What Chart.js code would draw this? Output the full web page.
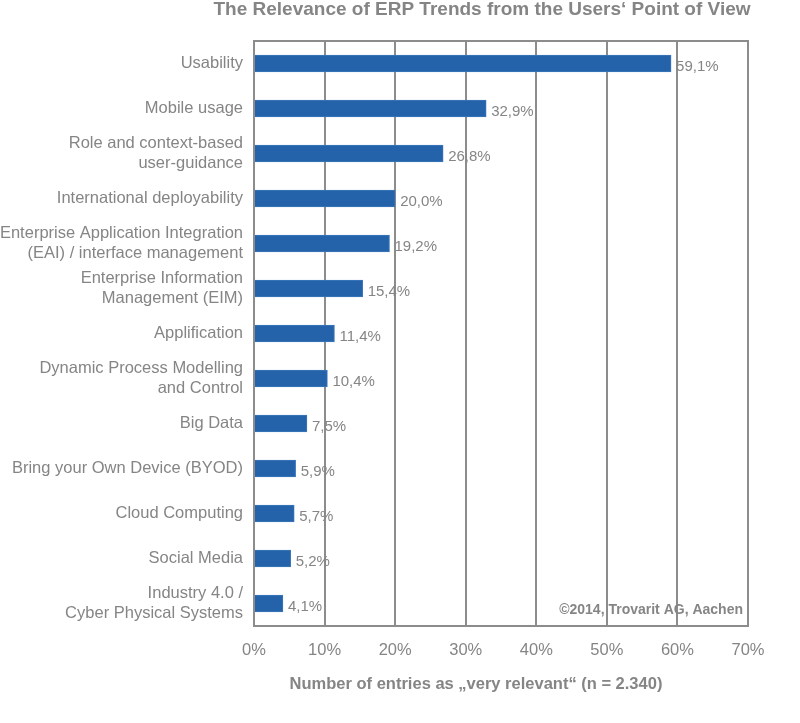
<!DOCTYPE html>
<html>
<head>
<meta charset="utf-8">
<script src="https://cdn.jsdelivr.net/npm/chart.js@4"></script>
<style>
  body { margin: 0; background: #fff; }
  #wrap { width: 800px; height: 723px; }
</style>
</head>
<body>
<div id="wrap"><canvas id="myChart" width="800" height="723"></canvas></div>
<script>
// data
const trendLabels = [
  "Usability",
  "Mobile usage",
  ["Role and context-based", "user-guidance"],
  "International deployability",
  ["Enterprise Application Integration", "(EAI) / interface management"],
  ["Enterprise Information", "Management (EIM)"],
  "Applification",
  ["Dynamic Process Modelling", "and Control"],
  "Big Data",
  "Bring your Own Device (BYOD)",
  "Cloud Computing",
  "Social Media",
  ["Industry 4.0 /", "Cyber Physical Systems"]
];
const trendValues = [59.1, 32.9, 26.8, 20.0, 19.2, 15.4, 11.4, 10.4, 7.5, 5.9, 5.7, 5.2, 4.1];
const axisMax = 70;

const chartTitle = "The Relevance of ERP Trends from the Users\u2018 Point of View";
const axisTitle = "Number of entries as \u201Every relevant\u201C (n = 2.340)";
const copyright = "\u00A92014, Trovarit AG, Aachen";

const gray = "#858585";
const lineGray = "#8c8c8c";
const font = "'Liberation Sans', Arial, sans-serif";

// title, box, value labels, footer text
const extras = {
  id: "extras",
  afterDraw(chart) {
    const c = chart.ctx;
    const a = chart.chartArea;
    c.save();
    // frame
    c.strokeStyle = lineGray;
    c.lineWidth = 2;
    c.strokeRect(a.left, a.top, a.right - a.left, a.bottom - a.top);

    // value labels
    c.fillStyle = gray;
    c.font = "15px " + font;
    c.textAlign = "left";
    c.textBaseline = "middle";
    chart.getDatasetMeta(0).data.forEach((bar, i) => {
      const txt = trendValues[i].toFixed(1).replace(".", ",") + "%";
      c.fillText(txt, bar.x + 5, bar.y + 3);
    });

    // copyright
    c.font = "bold 14px " + font;
    c.textAlign = "right";
    c.fillText(copyright, a.right - 5, a.bottom - 16);

    // chart title
    c.font = "bold 19px " + font;
    c.textAlign = "center";
    c.fillText(chartTitle, 482, 10);

    // axis title
    c.font = "bold 16.5px " + font;
    c.fillText(axisTitle, 476, 684);
    c.restore();
  }
};

new Chart(document.getElementById("myChart"), {
  type: "bar",
  data: {
    labels: trendLabels,
    datasets: [
      {
        data: trendValues,
        backgroundColor: "#2462a9",
        borderColor: "#3d78bb",
        borderWidth: 1,
        barThickness: 17,
      },
    ],
  },
  options: {
    indexAxis: "y",
    responsive: false,
    animation: false,
    layout: { padding: { top: 41, right: 52, bottom: 57, left: 0 } },
    plugins: {
      legend: { display: false },
      tooltip: { enabled: false },
    },
    scales: {
      x: {
        min: 0,
        max: axisMax,
        ticks: {
          stepSize: 10,
          color: gray,
          font: { size: 16.5, family: font },
          padding: 15,
          maxRotation: 0,
          autoSkip: false,
          callback: (v) => v + "%",
        },
        grid: {
          color: lineGray,
          lineWidth: 2,
          drawTicks: false,
        },
        border: { display: false },
        afterFit(scale) { scale.height = 40; },
      },
      y: {
        ticks: {
          color: gray,
          font: { size: 16.5, family: font, lineHeight: 1.22 },
          padding: 11,
        },
        grid: { display: false, drawTicks: false },
        border: { display: false },
        afterFit(scale) { scale.width = 254; },
      },
    },
  },
  plugins: [extras],
});
</script>
</body>
</html>
